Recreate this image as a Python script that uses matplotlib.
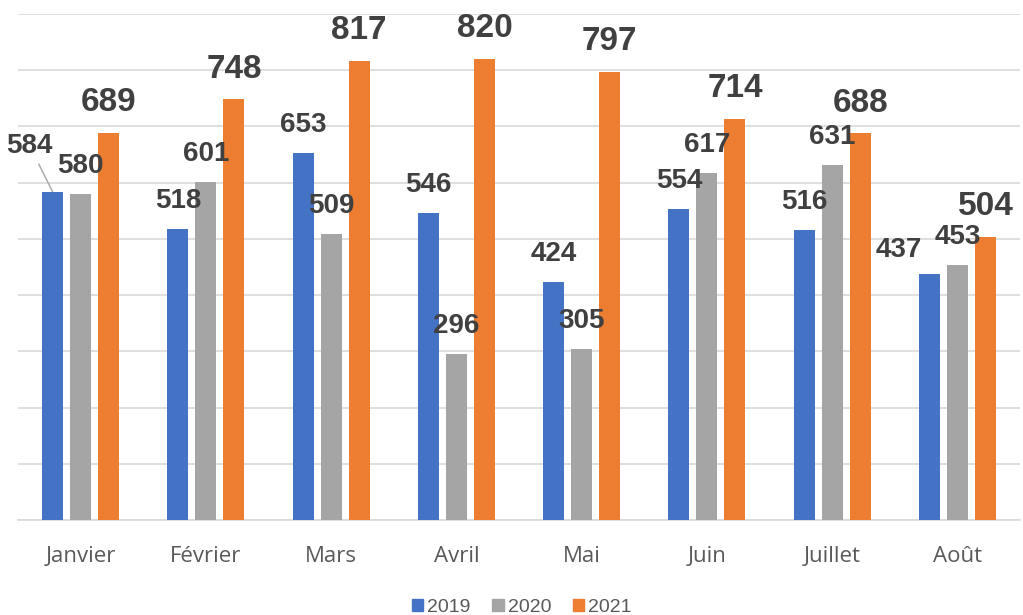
import matplotlib
matplotlib.use("Agg")
import matplotlib.pyplot as plt
import numpy as np
from matplotlib.patches import Patch

months = ["Janvier", "Février", "Mars", "Avril", "Mai", "Juin", "Juillet", "Août"]
years = ["2019", "2020", "2021"]
v2019 = [584, 518, 653, 546, 424, 554, 516, 437]
v2020 = [580, 601, 509, 296, 305, 617, 631, 453]
v2021 = [689, 748, 817, 820, 797, 714, 688, 504]
colors = ["#4472C4", "#A5A5A5", "#ED7D31"]

fig = plt.figure(figsize=(10.23, 6.15), dpi=100)
ax = fig.add_axes([18 / 1023, 1 - 520 / 615, (1020 - 18) / 1023, (520 - 14) / 615])

x = np.arange(len(months))
step = 0.224
width = 0.168
series = [v2019, v2020, v2021]
label_font = dict(family="Liberation Sans", weight="bold", color="#404040")

# labels moved away from their default spot: (series, month) -> pixel offset
moved = {(0, 0): (-23, 46), (0, 7): (-31, 24)}

for i, (vals, col) in enumerate(zip(series, colors)):
    xs = x + (i - 1) * step
    ax.bar(xs, vals, width=width, color=col, zorder=3)
    size = 24 if i == 2 else 20
    off = 30 if i == 2 else 28
    for j, (xi, v) in enumerate(zip(xs, vals)):
        if (i, j) == (0, 0):
            ax.annotate(str(v), xy=(xi, v), xytext=moved[(i, j)],
                        textcoords="offset pixels", ha="center", va="center",
                        fontsize=size, zorder=6, **label_font,
                        arrowprops=dict(arrowstyle="-", color="#A6A6A6",
                                        lw=1, shrinkA=2, shrinkB=0))
        else:
            ax.annotate(str(v), xy=(xi, v), xytext=moved.get((i, j), (0, off)),
                        textcoords="offset pixels", ha="center", va="center",
                        fontsize=size, zorder=6, **label_font)

ax.set_xlim(-0.5, len(months) - 0.5)
ax.set_ylim(0, 900)
ax.set_yticks(np.arange(0, 901, 100))
ax.yaxis.grid(True, color="#D9D9D9", lw=1.2, zorder=0)
ax.tick_params(axis="y", left=False, labelleft=False)
ax.tick_params(axis="x", length=0, pad=19)
ax.set_xticks(x)
ax.set_xticklabels(months, fontsize=16, color="#595959", family="Open Sans")
for s in ["top", "right", "left"]:
    ax.spines[s].set_visible(False)
ax.spines["bottom"].set_color("#D9D9D9")
ax.spines["bottom"].set_linewidth(1.2)

handles = [Patch(color=c, label=y) for c, y in zip(colors, years)]
fig.legend(handles=handles, loc="lower center", bbox_to_anchor=(0.51, -0.03),
           ncol=3, frameon=False, handlelength=0.6, handleheight=0.6,
           handletextpad=0.2, columnspacing=1.1,
           prop=dict(family="Liberation Sans", size=14), labelcolor="#595959")

fig.savefig("out.png", dpi=100)
